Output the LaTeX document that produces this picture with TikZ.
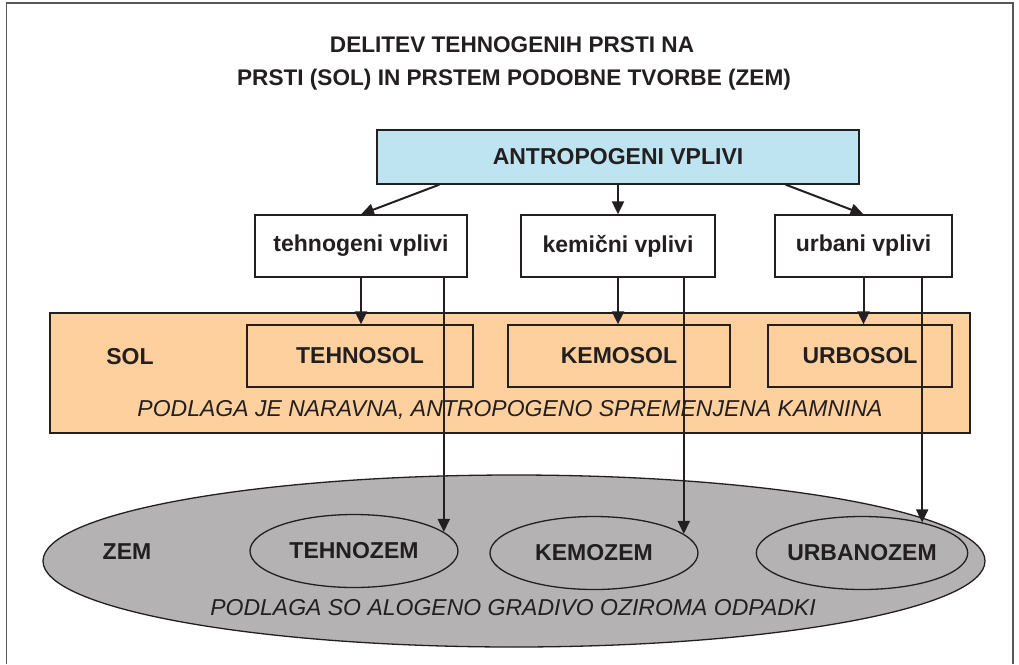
\documentclass[tikz,border=0pt]{standalone}
\usepackage{fontspec}
\setmainfont{Liberation Sans}
\usetikzlibrary{shapes.geometric,arrows.meta}
\definecolor{ink}{HTML}{231F20}
\definecolor{skyfill}{HTML}{BDE4F0}
\definecolor{peach}{HTML}{FDD09E}
\definecolor{zemgray}{HTML}{B4B2B3}
\tikzset{
  boxa/.style={draw=ink, line width=1.3pt, rectangle, inner sep=0pt, text=ink,
     font=\fontsize{23}{27}\selectfont\bfseries},
  ell/.style={draw=ink, line width=1.3pt, ellipse, inner sep=0pt, text=ink,
     font=\fontsize{23}{27}\selectfont\bfseries},
  lbl/.style={text=ink, inner sep=0pt, font=\fontsize{23}{27}\selectfont\bfseries},
  itl/.style={text=ink, inner sep=0pt, font=\fontsize{23}{27}\selectfont\itshape},
  ttl/.style={text=ink, inner sep=0pt, font=\fontsize{22.6}{27}\selectfont\bfseries},
  arr/.style={draw=ink, line width=2pt, -{Triangle[length=13pt,width=12pt]}},
  ln/.style={draw=ink, line width=2pt},
}
\begin{document}
\begin{tikzpicture}[x=1pt,y=-1pt]
\useasboundingbox (0,0) rectangle (1019,664);
\fill[white] (0,0) rectangle (1019,664);
% frame
\draw[line width=1.5pt, color=ink!75] (6.5,664) -- (6.5,3) -- (1013,3) -- (1013,664);

% title
\node[ttl] (t1) at (512,45) {DELITEV TEHNOGENIH PRSTI NA};
\node[ttl] (t2) at (514,80) {PRSTI (SOL) IN PRSTEM PODOBNE TVORBE (ZEM)};

% top box
\node[boxa, fill=skyfill, minimum width=482pt, minimum height=54pt] (av) at (618,157) {ANTROPOGENI VPLIVI};

% influence boxes
\node[boxa, fill=white, minimum width=212pt, minimum height=62pt] (tv) at (361,246) {tehnogeni vplivi};
\node[boxa, fill=white, minimum width=194pt, minimum height=62pt] (kv) at (618,246) {kemični vplivi};
\node[boxa, fill=white, minimum width=177pt, minimum height=62pt] (uv) at (863.5,246) {urbani vplivi};

% SOL band
\node[boxa, fill=peach, minimum width=920pt, minimum height=120pt] (sol) at (510,373) {};
\node[lbl] (soltxt) at (130,357) {SOL};
\node[boxa, fill=peach, minimum width=226pt, minimum height=62pt] (ts) at (360,356) {TEHNOSOL};
\node[boxa, fill=peach, minimum width=222pt, minimum height=62pt] (ks) at (619,356) {KEMOSOL};
\node[boxa, fill=peach, minimum width=184pt, minimum height=62pt] (us) at (860,356) {URBOSOL};
\node[itl] (solsub) at (510,410) {PODLAGA JE NARAVNA, ANTROPOGENO SPREMENJENA KAMNINA};

% ZEM ellipse
\node[ell, fill=zemgray, minimum width=942pt, minimum height=172pt] (zem) at (514,561) {};
\node[lbl] (zemtxt) at (127,552) {ZEM};
\node[ell, fill=zemgray, minimum width=208pt, minimum height=73pt] (tz) at (354,551) {TEHNOZEM};
\node[ell, fill=zemgray, minimum width=208pt, minimum height=73pt] (kz) at (594,553) {KEMOZEM};
\node[ell, fill=zemgray, minimum width=209pt, minimum height=73pt] (uz) at (862,553) {URBANOZEM};
\node[itl] (zemsub) at (513,608) {PODLAGA SO ALOGENO GRADIVO OZIROMA ODPADKI};

% arrows from top box
\draw[arr] ([xshift=63pt]av.south west) -- (tv.north);
\draw[arr] (av.south -| kv.north) -- (kv.north);
\draw[arr] ([xshift=-74pt]av.south east) -- (uv.north);

% arrows to SOL boxes
\draw[arr] (tv.south) -- (tv.south |- ts.north);
\draw[arr] (kv.south) -- (kv.south |- ks.north);
\draw[arr] (uv.south) -- (uv.south |- us.north);

% arrows to ZEM ellipses
\draw[arr] (tz.12 |- tv.south) -- (tz.12);
\draw[arr] (kz.12 |- kv.south) -- (kz.12);
\draw[arr] (uz.27 |- uv.south) -- (uz.27);
\end{tikzpicture}
\end{document}
